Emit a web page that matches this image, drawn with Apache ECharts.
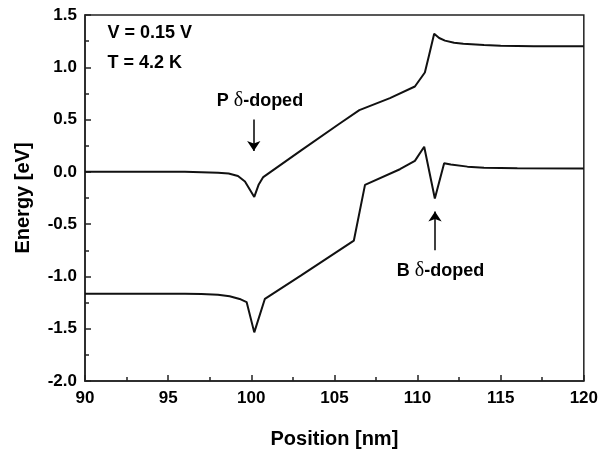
<!DOCTYPE html>
<html>
<head>
<meta charset="utf-8">
<script src="https://cdn.jsdelivr.net/npm/echarts@6/dist/echarts.min.js"></script>
<style>
html,body{margin:0;padding:0;background:#fff}
#main{width:601px;height:457px}
</style>
</head>
<body>
<div id="main"></div>
<script>
// conduction band edge (upper curve)
var cbPos = [90, 96, 97, 98, 98.64, 99.2, 99.62, 100.18, 100.45, 100.72, 103, 105.3, 106.5, 108.34, 109.84, 110.44, 110.7, 111.0, 111.3, 111.65, 112.2, 112.75, 114, 115, 117, 120];
var cbEnergy = [0.0, 0.0, -0.003, -0.008, -0.015, -0.04, -0.093, -0.24, -0.12, -0.05, 0.205, 0.46, 0.59, 0.705, 0.816, 0.95, 1.12, 1.32, 1.28, 1.255, 1.235, 1.224, 1.212, 1.207, 1.202, 1.2];
// valence band edge (lower curve)
var vbPos = [90, 96, 97, 98, 98.7, 99.3, 99.72, 100.18, 100.82, 103, 106.17, 106.84, 108.94, 109.84, 110.4, 111.04, 111.6, 112, 113, 114, 116, 120];
var vbEnergy = [-1.165, -1.165, -1.168, -1.175, -1.19, -1.215, -1.245, -1.535, -1.214, -0.99, -0.657, -0.124, 0.025, 0.105, 0.24, -0.255, 0.083, 0.07, 0.05, 0.04, 0.035, 0.033];

// annotations
var infoText = ['V = 0.15 V', 'T = 4.2 K'];
var infoPos = [[91.32, 1.33], [91.32, 1.045]];
var dopeText = ['{b|P }{d|δ}{b|-doped}', '{b|B }{d|δ}{b|-doped}'];
var dopePos = [[100.52, 0.68], [111.38, -0.945]];
var arrowFrom = [[100.15, 0.50], [111.05, -0.75]];
var arrowTo = [[100.15, 0.20], [111.05, -0.38]];

function zip(xs, ys) {
    var out = [];
    for (var i = 0; i < xs.length; i++) out.push([xs[i], ys[i]]);
    return out;
}

var font = 'Liberation Sans, Arial, sans-serif';
var rich = {
    b: {fontFamily: font, fontWeight: 'bold', fontSize: 18, color: '#000'},
    d: {fontFamily: 'Liberation Serif, serif', fontSize: 20, color: '#000'}
};

var marks = [];
for (var i = 0; i < infoText.length; i++) {
    marks.push({
        coord: infoPos[i], symbol: 'rect', symbolSize: 1,
        itemStyle: {color: 'rgba(0,0,0,0)'},
        label: {show: true, position: 'right', distance: 0, formatter: infoText[i],
            fontFamily: font, fontWeight: 'bold', fontSize: 18, color: '#000'}
    });
}
for (var i = 0; i < dopeText.length; i++) {
    marks.push({
        coord: dopePos[i], symbol: 'rect', symbolSize: 1,
        itemStyle: {color: 'rgba(0,0,0,0)'},
        label: {show: true, position: 'inside', formatter: dopeText[i], rich: rich}
    });
}
var arrows = [];
for (var i = 0; i < arrowFrom.length; i++) {
    arrows.push([{coord: arrowFrom[i]}, {coord: arrowTo[i]}]);
}

var chart = echarts.init(document.getElementById('main'));
var option = {
    animation: false,
    backgroundColor: '#fff',
    grid: {left: 85, top: 15, right: 17, bottom: 76, show: true, borderColor: '#222', borderWidth: 1.5},
    xAxis: {
        type: 'value', min: 90, max: 120, interval: 5,
        name: 'Position [nm]', nameLocation: 'middle', nameGap: 48,
        nameTextStyle: {fontFamily: font, fontWeight: 'bold', fontSize: 20, color: '#000'},
        axisLine: {show: true, onZero: false, lineStyle: {color: '#222', width: 1.5}},
        axisTick: {show: true, inside: true, length: 6, lineStyle: {color: '#222', width: 1.5}},
        minorTick: {show: true, splitNumber: 2, length: 4, lineStyle: {color: '#222', width: 1.5}},
        splitLine: {show: false},
        axisLabel: {fontFamily: font, fontWeight: 'bold', fontSize: 17, color: '#000', margin: 9}
    },
    yAxis: {
        type: 'value', min: -2, max: 1.5, interval: 0.5,
        name: 'Energy [eV]', nameLocation: 'middle', nameGap: 52,
        nameTextStyle: {fontFamily: font, fontWeight: 'bold', fontSize: 20, color: '#000'},
        axisLine: {show: true, onZero: false, lineStyle: {color: '#222', width: 1.5}},
        axisTick: {show: true, inside: true, length: 6, lineStyle: {color: '#222', width: 1.5}},
        minorTick: {show: true, splitNumber: 2, length: 4, lineStyle: {color: '#222', width: 1.5}},
        splitLine: {show: false},
        axisLabel: {fontFamily: font, fontWeight: 'bold', fontSize: 17, color: '#000', margin: 8,
            formatter: function (v) { return v.toFixed(1); }}
    },
    series: [{
        type: 'line', data: zip(cbPos, cbEnergy), symbol: 'none', silent: true,
        lineStyle: {color: '#111', width: 2},
        markPoint: {silent: true, data: marks},
        markLine: {silent: true, symbol: ['none', 'arrow'], symbolSize: 10,
            label: {show: false}, lineStyle: {color: '#000', width: 1.5, type: 'solid'},
            data: arrows}
    }, {
        type: 'line', data: zip(vbPos, vbEnergy), symbol: 'none', silent: true,
        lineStyle: {color: '#111', width: 2}
    }]
};
chart.setOption(option);
</script>
</body>
</html>
